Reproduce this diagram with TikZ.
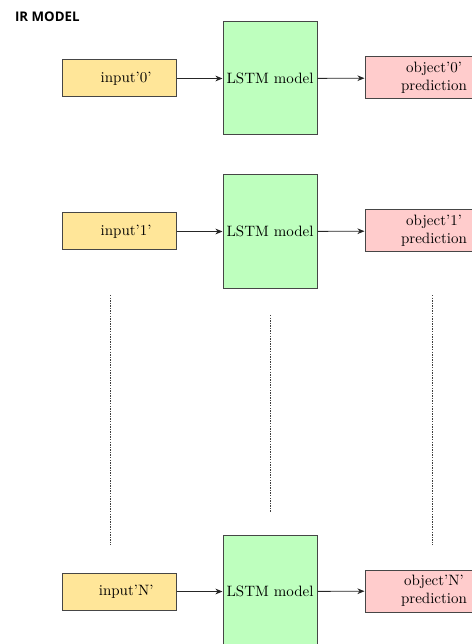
\documentclass[tikz,border=0pt]{standalone}
\usepackage{fontspec}
\newfontfamily\titlefont{Open Sans}
\usepackage{tikz}
\usetikzlibrary{arrows.meta,positioning}
\definecolor{inyellow}{RGB}{255,230,153}
\definecolor{lstmgreen}{RGB}{190,255,190}
\definecolor{outpink}{RGB}{255,204,204}
\definecolor{edgegrey}{RGB}{70,70,70}

\begin{document}
\begin{tikzpicture}[x=0.7pt, y=-0.7pt,
  inbox/.style={draw=edgegrey, line width=0.7pt, fill=inyellow, minimum width=79.8pt, minimum height=25.9pt, inner sep=0pt, font=\fontsize{10.5}{12}\selectfont},
  lstmbox/.style={draw=edgegrey, line width=0.7pt, fill=lstmgreen, minimum width=65.8pt, minimum height=79.1pt, inner sep=0pt, font=\fontsize{10.5}{12}\selectfont},
  outbox/.style={draw=edgegrey, line width=0.7pt, fill=outpink, minimum width=96.6pt, minimum height=29.4pt, inner sep=0pt, align=center, font=\fontsize{10.5}{12.5}\selectfont},
  flow/.style={-{Stealth[length=5pt,width=4pt]}, line width=0.6pt, draw=black!85},
  gap/.style={dash pattern=on 1pt off 0.8pt, line width=0.5pt, draw=black!75}]
  \useasboundingbox (0,0) rectangle (471,644);

  \node[anchor=base west, font=\titlefont\bfseries\fontsize{9.3}{11}\selectfont] (title) at (10,21.5) {IR MODEL};

  % row 0
  \node[inbox] (in0) at (119,78.5) {\hspace{10pt}input’0’};
  \node[lstmbox] (lstm0) at (270,78.5) {LSTM model};
  \node[outbox] (out0) at (434,78) {object’0’\\prediction};
  \draw[flow] (in0) -- (lstm0);
  \draw[flow] (lstm0) -- (out0);

  % row 1
  \node[inbox] (in1) at (119,231.5) {\hspace{10pt}input’1’};
  \node[lstmbox] (lstm1) at (270,231.5) {LSTM model};
  \node[outbox] (out1) at (434,231) {object’1’\\prediction};
  \draw[flow] (in1) -- (lstm1);
  \draw[flow] (lstm1) -- (out1);

  % row N
  \node[inbox] (inN) at (119,591.5) {\hspace{10pt}input’N’};
  \node[lstmbox] (lstmN) at (270,591.5) {LSTM model};
  \node[outbox] (outN) at (434,591) {object’N’\\prediction};
  \draw[flow] (inN) -- (lstmN);
  \draw[flow] (lstmN) -- (outN);

  % dots between rows
  \coordinate (gapin1) at (110,295);
  \coordinate (gapin2) at (110,545);
  \coordinate (gaplstm1) at (270,315);
  \coordinate (gaplstm2) at (270,512);
  \coordinate (gapout1) at (432,295);
  \coordinate (gapout2) at (432,545);
  \draw[gap] (gapin1) -- (gapin2);
  \draw[gap] (gaplstm1) -- (gaplstm2);
  \draw[gap] (gapout1) -- (gapout2);
\end{tikzpicture}
\end{document}
